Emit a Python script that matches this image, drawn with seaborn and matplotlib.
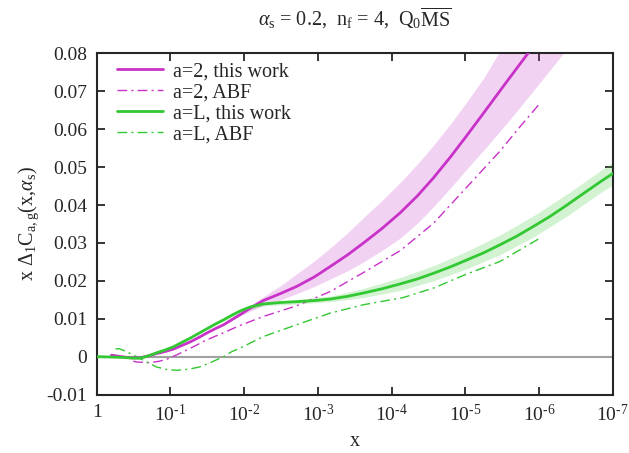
import numpy as np
import pandas as pd
import matplotlib
matplotlib.use("Agg")
import matplotlib.pyplot as plt
import seaborn as sns

# x positions are given as -log10(x)

# a=2, this work
a2_lg = [0.20, 0.30, 0.45, 0.59, 0.70, 0.81, 0.92, 1.04, 1.15, 1.27, 1.38, 1.49, 1.60,
         1.72, 1.83, 1.94, 2.10, 2.26, 2.50, 2.71, 2.95, 3.17, 3.40, 3.62, 3.87, 4.12,
         4.35, 4.57, 4.80, 5.02, 5.25, 5.55, 5.85, 6.10]
a2_y = [0.0004, 0.0001, -0.0003, -0.0003, 0.0002, 0.0008, 0.0013, 0.0020, 0.0029, 0.0039,
        0.0050, 0.0062, 0.0073, 0.0084, 0.0097, 0.0110, 0.0130, 0.0148, 0.0167, 0.0185,
        0.0210, 0.0238, 0.0268, 0.0300, 0.0338, 0.0380, 0.0424, 0.0472, 0.0527, 0.0583,
        0.0643, 0.0722, 0.0800, 0.0865]

# a=2 uncertainty band
a2_band_lg = [1.80, 1.90, 2.00, 2.13, 2.26, 2.50, 2.71, 2.95, 3.17, 3.40, 3.62, 3.87,
              4.12, 4.35, 4.57, 4.80, 5.02, 5.25, 5.45, 5.70, 6.00, 6.33, 6.60]
a2_lo = [0.0094, 0.0104, 0.0112, 0.0124, 0.0135, 0.0150, 0.0166, 0.0185, 0.0205, 0.0226,
         0.0250, 0.0280, 0.0313, 0.0352, 0.0396, 0.0445, 0.0495, 0.0545, 0.0590, 0.0648,
         0.0720, 0.0800, 0.0870]
a2_hi = [0.0099, 0.0112, 0.0124, 0.0141, 0.0158, 0.0188, 0.0218, 0.0252, 0.0287, 0.0326,
         0.0367, 0.0412, 0.0460, 0.0508, 0.0558, 0.0614, 0.0672, 0.0735, 0.0800, 0.0870,
         0.0960, 0.1060, 0.1140]

# a=2, ABF
a2abf_lg = [0.45, 0.54, 0.72, 0.85, 0.95, 1.10, 1.27, 1.49, 1.72, 1.94, 2.26, 2.71, 3.17,
            3.62, 4.12, 4.57, 5.02, 5.47, 5.74, 5.99]
a2abf_y = [-0.0010, -0.0014, -0.0016, -0.0012, -0.0007, 0.0006, 0.0022, 0.0044, 0.0063,
           0.0082, 0.0106, 0.0134, 0.0172, 0.0222, 0.0280, 0.0352, 0.0447, 0.0542, 0.0606,
           0.0663]

# a=L, this work
aL_lg = [0.00, 0.20, 0.36, 0.50, 0.59, 0.70, 0.81, 0.92, 1.04, 1.15, 1.27, 1.38, 1.49,
         1.60, 1.72, 1.83, 1.94, 2.08, 2.26, 2.50, 2.71, 2.95, 3.17, 3.40, 3.62, 3.87,
         4.12, 4.35, 4.57, 4.80, 5.02, 5.25, 5.47, 5.70, 5.92, 6.15, 6.38, 6.60, 6.83, 7.00]
aL_y = [0.0000, -0.0001, -0.0002, -0.0004, -0.0004, 0.0002, 0.0010, 0.0017, 0.0026, 0.0037,
        0.0049, 0.0061, 0.0073, 0.0085, 0.0097, 0.0109, 0.0120, 0.0131, 0.0139, 0.0143,
        0.0145, 0.0148, 0.0152, 0.0159, 0.0168, 0.0179, 0.0192, 0.0205, 0.0220, 0.0237,
        0.0255, 0.0274, 0.0295, 0.0318, 0.0343, 0.0370, 0.0400, 0.0430, 0.0461, 0.0483]

# a=L uncertainty band
aL_band_lg = [1.50, 2.00, 2.26, 2.71, 3.17, 3.62, 4.12, 4.57, 5.02, 5.47, 5.92, 6.38, 6.83, 7.00]
aL_lo = [0.0072, 0.0121, 0.0134, 0.0139, 0.0145, 0.0156, 0.0175, 0.0200, 0.0232, 0.0269,
         0.0315, 0.0371, 0.0432, 0.0453]
aL_hi = [0.0076, 0.0129, 0.0143, 0.0151, 0.0160, 0.0180, 0.0209, 0.0240, 0.0278, 0.0321,
         0.0371, 0.0429, 0.0490, 0.0513]

# a=L, ABF
aLabf_lg = [0.20, 0.30, 0.36, 0.50, 0.68, 0.81, 0.95, 1.09, 1.25, 1.40, 1.55, 1.72, 1.83,
            1.94, 2.26, 2.71, 3.17, 3.62, 4.16, 4.57, 5.02, 5.47, 5.99]
aLabf_y = [0.0020, 0.0021, 0.0017, 0.0004, -0.0014, -0.0027, -0.0034, -0.0036, -0.0033,
           -0.0027, -0.0015, 0.0000, 0.0013, 0.0022, 0.0053, 0.0084, 0.0115, 0.0137,
           0.0156, 0.0181, 0.0218, 0.0251, 0.0310]

x_ticks = [1, 1e-1, 1e-2, 1e-3, 1e-4, 1e-5, 1e-6, 1e-7]
x_ticklabels = ["1"] + [r"10$^{\text{-%d}}$" % k for k in range(1, 8)]
y_ticks = [-0.01, 0, 0.01, 0.02, 0.03, 0.04, 0.05, 0.06, 0.07, 0.08]
y_ticklabels = ["-0.01", "0", "0.01", "0.02", "0.03", "0.04", "0.05", "0.06", "0.07", "0.08"]

magenta = "#c832c8"
green = "#32c832"


def to_x(lg):
    return 10.0 ** (-np.asarray(lg))


sns.set_style("ticks")
plt.rcParams["font.family"] = ["Liberation Serif", "DejaVu Serif"]
plt.rcParams["mathtext.fontset"] = "custom"
plt.rcParams["mathtext.rm"] = "Liberation Serif"
plt.rcParams["mathtext.it"] = "Liberation Serif:italic"
plt.rcParams["axes.linewidth"] = 1.5

fig, ax = plt.subplots(figsize=(6.29, 4.53), dpi=100)
plt.subplots_adjust(left=0.1537, right=0.974, bottom=0.129, top=0.882)

ax.axhline(0, color="#a0a0a0", lw=1.5, zorder=1)

ax.fill_between(to_x(a2_band_lg), a2_lo, a2_hi, color=magenta, alpha=0.22, lw=0, zorder=2)
ax.fill_between(to_x(aL_band_lg), aL_lo, aL_hi, color=green, alpha=0.22, lw=0, zorder=2)

dashdot = (0, (7, 3, 1.5, 3))
sns.lineplot(x=to_x(a2_lg), y=a2_y, color=magenta, lw=2, label="a=2, this work", ax=ax, zorder=4)
sns.lineplot(x=to_x(a2abf_lg), y=a2abf_y, color=magenta, lw=1, linestyle=dashdot,
             label="a=2, ABF", ax=ax, zorder=3)
sns.lineplot(x=to_x(aL_lg), y=aL_y, color=green, lw=2, label="a=L, this work", ax=ax, zorder=4)
sns.lineplot(x=to_x(aLabf_lg), y=aLabf_y, color=green, lw=1, linestyle=dashdot,
             label="a=L, ABF", ax=ax, zorder=3)

ax.set_xscale("log")
ax.set_xlim(1, 1e-7)
ax.set_ylim(-0.01, 0.08)
ax.set_xticks(x_ticks)
ax.set_xticklabels(x_ticklabels)
ax.xaxis.set_minor_locator(matplotlib.ticker.NullLocator())
ax.set_yticks(y_ticks)
ax.set_yticklabels(y_ticklabels)
ax.tick_params(direction="in", length=6, width=1.3, top=True, right=True,
               labelsize=14, pad=7)
for s in ax.spines.values():
    s.set_visible(True)
    s.set_linewidth(1.5)

ax.set_xlabel("x", fontsize=14.5, labelpad=5)
ax.set_ylabel(r"x $\Delta_1$C$_{\rm a,g}$(x,$\alpha_{\rm s}$)", fontsize=14.5, labelpad=4)
ax.set_title(r"$\alpha_{\rm s}$ = 0.2,  n$_{\rm f}$ = 4,  Q$_0\overline{\rm MS}$",
             fontsize=14.5, pad=20)

ax.legend(loc="upper left", bbox_to_anchor=(0.039, 0.975), frameon=False, fontsize=14.5,
          handlelength=2.3, labelspacing=0.1, borderpad=0, borderaxespad=0,
          handletextpad=0.5)

plt.savefig("out.png", dpi=100)
